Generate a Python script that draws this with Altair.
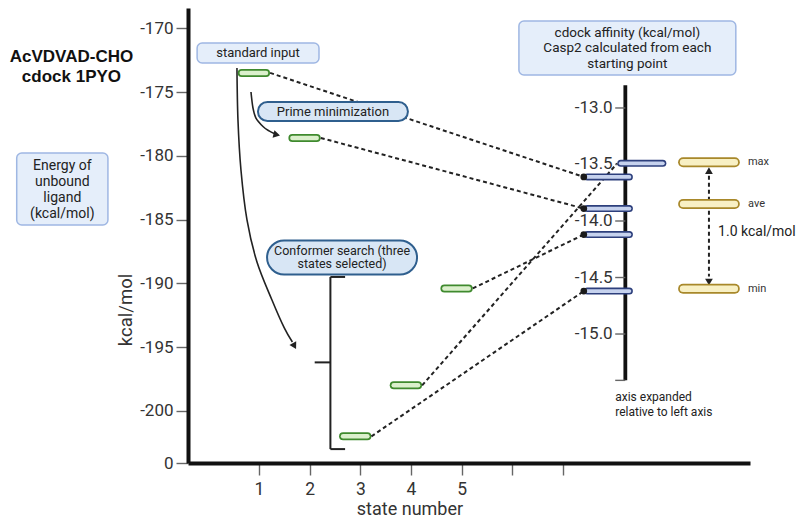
import altair as alt
import pandas as pd

# ---------------- data ----------------
states = [1, 2, 3, 4, 5]
ligand_energy = [-173.5, -178.6, -202.0, -198.0, -190.4]      # left axis, kcal/mol
affinity = [-13.61, -13.89, -14.62, -13.49, -14.12]             # right axis, kcal/mol
summary_labels = ["max", "ave", "min"]
summary_values = [-13.48, -13.85, -14.60]
left_ticks = [-200, -195, -190, -185, -180, -175, -170]
right_ticks = [-13.0, -13.5, -14.0, -14.5, -15.0]
right_axis_range = [-12.80, -15.41]
state_ticks = [1, 2, 3, 4, 5, 6, 7]

# ---------------- scales ----------------
X_DOM = [-0.4, 10.69]
Y_DOM = [-204.09, -168.41]
xs = alt.Scale(domain=X_DOM, nice=False, zero=False)
ys = alt.Scale(domain=Y_DOM, nice=False, zero=False)
FONT = "Roboto"
INK = "#222222"

x_axis = alt.Axis(values=state_ticks, title=None, grid=False,
                  labelExpr="datum.value <= 5 ? datum.label : ''",
                  tickSize=12, tickColor="#666", tickWidth=1.4,
                  domainColor="#111", domainWidth=4,
                  labelFont=FONT, labelFontSize=17.5, labelColor="#333", labelPadding=5)
y_axis = alt.Axis(values=left_ticks + [Y_DOM[0]], title=None, grid=False,
                  labelExpr="datum.value < -203 ? '0' : '-' + abs(datum.value)",
                  tickSize=12, tickColor="#666", tickWidth=1.4,
                  domainColor="#111", domainWidth=4,
                  labelFont=FONT, labelFontSize=17, labelColor="#333", labelPadding=3)


def aff(a):
    """expanded right-hand affinity axis expressed in left-axis units"""
    return -176.25 + (a + 13.0) * 8.863


def enc(x="x", y="y", x2=None, y2=None, **extra):
    e = dict(x=alt.X(f"{x}:Q", scale=xs, axis=x_axis),
             y=alt.Y(f"{y}:Q", scale=ys, axis=y_axis))
    if x2:
        e["x2"] = alt.X2(f"{x2}:Q")
    if y2:
        e["y2"] = alt.Y2(f"{y2}:Q")
    e.update(extra)
    return e


def pill(df, outer, inner, w_out, w_in):
    a = alt.Chart(df).mark_rule(color=outer, strokeWidth=w_out, strokeCap="round").encode(**enc("x", "y", x2="x2"))
    b = alt.Chart(df).mark_rule(color=inner, strokeWidth=w_in, strokeCap="round").encode(**enc("x", "y", x2="x2"))
    return [a, b]


def text_layer(rows, **kw):
    df = pd.DataFrame(rows, columns=["x", "y", "t"])
    base = dict(font=FONT, color=INK, baseline="middle")
    base.update(kw)
    return alt.Chart(df).mark_text(**base).encode(**enc(), text="t:N")


def box_layer(rows, fill, stroke, sw, radius):
    df = pd.DataFrame(rows, columns=["x", "x2", "y", "y2"])
    return alt.Chart(df).mark_rect(fill=fill, stroke=stroke, strokeWidth=sw,
                                   cornerRadius=radius).encode(**enc("x", "y", x2="x2", y2="y2"))


# ---------------- derived tables ----------------
green = pd.DataFrame({"state": states, "E": ligand_energy})
green["x"] = green.state - 0.34
green["x2"] = green.state + 0.14
green["y"] = green.E

blue_x0 = [7.41, 7.41, 7.41, 8.07, 7.41]
blue = pd.DataFrame({"state": states, "a": affinity, "x0": blue_x0})
blue["x"] = blue.x0 + 0.07
blue["x2"] = blue.x0 + 0.90
blue["y"] = blue.a.map(aff)

conn = pd.DataFrame({"x": green.state + 0.22, "y": green.E,
                     "xe": blue.x0, "ye": blue.a.map(aff)})

yellow = pd.DataFrame({"lab": summary_labels, "a": summary_values})
yellow["x"] = 9.37
yellow["x2"] = 10.39
yellow["y"] = yellow.a.map(aff)

# right axis
RX = 8.23
r_axis = pd.DataFrame({"x": [RX], "y": [aff(right_axis_range[0])], "y2": [aff(right_axis_range[1])]})
r_ticks = pd.DataFrame({"v": right_ticks + [right_axis_range[1]]})
r_ticks["x"] = RX - 0.2
r_ticks["x2"] = RX
r_ticks["y"] = r_ticks.v.map(aff)
r_labels = pd.DataFrame({"x": RX - 0.25, "y": [aff(v) for v in right_ticks],
                         "t": [f"{v:.1f}" for v in right_ticks]})

# curved arrows
curves = pd.DataFrame({
    "c": ["a"] * 6 + ["b"] * 8,
    "i": list(range(6)) + list(range(8)),
    "x": [0.843, 0.882, 0.941, 1.08, 1.2, 1.30,
          0.566, 0.586, 0.645, 0.764, 0.961, 1.257, 1.50, 1.66],
    "y": [-175.0, -176.25, -177.04, -177.7, -178.05, -178.25,
          -173.11, -177.19, -181.11, -185.03, -188.33, -191.31, -193.5, -194.6],
})
heads = pd.DataFrame({"x": [1.33, 1.69, 9.88, 9.88],
                      "y": [-178.33, -194.85, aff(-13.565), aff(-14.53)],
                      "ang": [104, 151, 0, 180]})

bracket = pd.DataFrame({"x": [2.41, 2.41, 2.41, 2.10],
                        "x2": [2.41, 2.70, 2.70, 2.41],
                        "y": [-189.5, -189.5, -203.0, -196.2],
                        "y2": [-203.0, -189.5, -203.0, -196.2]})

span = pd.DataFrame({"x": [9.88], "y": [aff(-13.60)], "y2": [aff(-14.49)]})

# ---------------- layers ----------------
g_out, g_in = pill(green, "#3f8a2e", "#dbf0cc", 8, 4.5)
layers = [g_out]
layers.append(alt.Chart(conn).mark_rule(color=INK, strokeWidth=2, strokeDash=[4, 3]).encode(
    **enc("x", "y", x2="xe", y2="ye")))
layers.append(g_in)
layers.append(alt.Chart(curves).mark_line(color=INK, strokeWidth=1.6, interpolate="cardinal").encode(
    **enc(), detail="c:N", order="i:Q"))
layers.append(alt.Chart(heads).mark_point(shape="triangle", filled=True, color=INK, size=60, opacity=1).encode(
    **enc(), angle=alt.Angle("ang:Q", scale=None)))
layers.append(alt.Chart(bracket).mark_rule(color=INK, strokeWidth=2).encode(**enc("x", "y", x2="x2", y2="y2")))
layers.append(alt.Chart(span).mark_rule(color=INK, strokeWidth=2, strokeDash=[4, 3]).encode(**enc("x", "y", y2="y2")))

# right axis
layers.append(alt.Chart(r_axis).mark_rule(color="#111", strokeWidth=3.8).encode(**enc("x", "y", y2="y2")))
layers.append(alt.Chart(r_ticks).mark_rule(color="#666", strokeWidth=1.4).encode(**enc("x", "y", x2="x2")))
layers.append(alt.Chart(r_labels).mark_text(font=FONT, fontSize=17, color="#333", align="right",
                                             baseline="middle").encode(**enc(), text="t:N"))

layers += pill(blue, "#2d3f7c", "#c6d2ee", 7, 3.8)
layers.append(alt.Chart(blue[blue.state != 4]).mark_circle(color="#1a1a1a", size=45, opacity=1).encode(
    **enc("x0", "y")))
layers += pill(yellow, "#a8882a", "#f8f0c4", 10, 6.5)

# boxes
layers.append(box_layer([(-0.22, 2.185, -171.15, -172.72),
                         (-3.78, -1.98, -179.78, -185.43),
                         (6.13, 10.41, -169.43, -173.66)],
                        "#e5eefa", "#9fb7e3", 1.5, 5))
layers.append(box_layer([(0.98, 3.94, -175.78, -177.27)], "#d8e6f5", "#2f5f8e", 2, 9.5))
layers.append(box_layer([(1.16, 4.12, -186.64, -189.31)], "#d8e6f5", "#2f5f8e", 2, 17))

# texts
layers.append(text_layer([(-2.70, -172.25, "AcVDVAD-CHO"), (-2.70, -173.82, "cdock 1PYO")],
                         font="Liberation Sans", fontSize=17, fontWeight="bold", color="#111"))
layers.append(text_layer([(-2.88, -180.80, "Energy of"), (-2.88, -182.05, "unbound"),
                          (-2.88, -183.31, "ligand"), (-2.88, -184.56, "(kcal/mol)")], fontSize=14))
layers.append(text_layer([(0.98, -171.94, "standard input"), (2.46, -176.53, "Prime minimization")],
                         fontSize=13))
layers.append(text_layer([(2.64, -187.43, "Conformer search (three"), (2.64, -188.52, "states selected)")],
                         fontSize=12.5))
layers.append(text_layer([(8.27, -170.37, "cdock affinity (kcal/mol)"),
                          (8.27, -171.55, "Casp2 calculated from each"),
                          (8.27, -172.80, "starting point")], fontSize=13.5))
layers.append(text_layer([(8.03, -198.9, "axis expanded"), (8.03, -200.09, "relative to left axis")],
                         fontSize=12, align="left"))
layers.append(text_layer([(10.06, -185.98, "1.0 kcal/mol")], fontSize=14, align="left"))
layers.append(text_layer([(10.65, aff(v), l) for l, v in zip(summary_labels, summary_values)],
                         fontSize=11, align="left", color="#333"))
layers.append(text_layer([(3.98, -207.75, "state number")], fontSize=18, color="#333"))
layers.append(text_layer([(-1.62, -192.09, "kcal/mol")], fontSize=18.5, angle=270, color="#333"))

chart = alt.layer(*layers).properties(
    width=562, height=455,
    autosize=alt.AutoSizeParams(type="none"),
    padding={"left": 180, "top": 0, "right": 46, "bottom": 57},
).configure_view(stroke=None)

chart.save("out.html", embed_options={"renderer": "svg", "actions": False})
